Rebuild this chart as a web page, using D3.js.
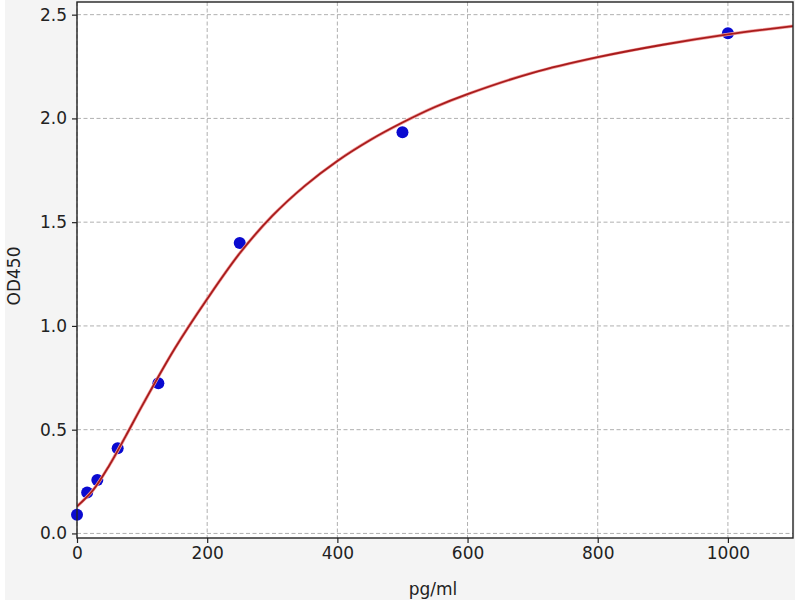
<!DOCTYPE html>
<html>
<head>
<meta charset="utf-8">
<script src="https://cdn.jsdelivr.net/npm/d3@7"></script>
<style>
  html, body { margin: 0; padding: 0; background: #ffffff; }
  svg { display: block; font-family: "DejaVu Sans", sans-serif; }
</style>
</head>
<body>
<svg id="chart" width="800" height="600"></svg>
<script>
// Standard points
const concentrations = [0, 15.6, 31.25, 62.5, 125, 250, 500, 1000];
const odValues = [0.09, 0.197, 0.258, 0.41, 0.724, 1.40, 1.933, 2.41];

// Fitted curve
const curveX = [0, 25, 50, 75, 100, 150, 200, 250, 300, 350, 400, 450, 500, 550, 600, 700, 800, 900, 1000, 1100];
const curveY = [0.13, 0.21, 0.33, 0.47, 0.615, 0.89, 1.13, 1.35, 1.53, 1.675, 1.795, 1.895, 1.98, 2.055, 2.117, 2.22, 2.295, 2.355, 2.405, 2.445];

const xTicks = [0, 200, 400, 600, 800, 1000];
const yTicks = [0.0, 0.5, 1.0, 1.5, 2.0, 2.5];

const xLabel = "pg/ml";
const yLabel = "OD450";

const svg = d3.select("#chart");
const W = 800, H = 600;
const m = { left: 77, right: 793, top: 2, bottom: 538 };

svg.append("rect").attr("x", 5).attr("y", 0).attr("width", 790).attr("height", H).attr("fill", "#f4f4f4");
svg.append("rect").attr("x", m.left).attr("y", m.top).attr("width", m.right - m.left).attr("height", m.bottom - m.top).attr("fill", "#ffffff");

const x = d3.scaleLinear().domain([0, 1100]).range([m.left, m.right]);
const y = d3.scaleLinear().domain([-0.022, 2.561]).range([m.bottom, m.top]);

// grid
const grid = svg.append("g").attr("stroke", "#b0b0b0").attr("stroke-width", 1).attr("stroke-dasharray", "4,2.5");
grid.selectAll("line.gx").data(xTicks).enter().append("line")
  .attr("x1", d => x(d)).attr("x2", d => x(d)).attr("y1", m.top).attr("y2", m.bottom);
grid.selectAll("line.gy").data(yTicks).enter().append("line")
  .attr("x1", m.left).attr("x2", m.right).attr("y1", d => y(d)).attr("y2", d => y(d));

// points
svg.append("g").selectAll("circle").data(concentrations).enter().append("circle")
  .attr("cx", d => x(d)).attr("cy", (d, i) => y(odValues[i])).attr("r", 6)
  .attr("fill", "#0a0ad0");

// curve
const line = d3.line().x(d => x(d[0])).y(d => y(d[1])).curve(d3.curveCatmullRom.alpha(0.5));
svg.append("clipPath").attr("id", "clip").append("rect")
  .attr("x", m.left).attr("y", m.top).attr("width", m.right - m.left).attr("height", m.bottom - m.top);
const curveData = curveX.map((v, i) => [v, curveY[i]]);
svg.append("path").datum(curveData)
  .attr("clip-path", "url(#clip)")
  .attr("d", line).attr("fill", "none").attr("stroke", "#f2a0a0").attr("stroke-width", 3.2);
svg.append("path").datum(curveData)
  .attr("clip-path", "url(#clip)")
  .attr("d", line).attr("fill", "none").attr("stroke", "#a81c1c").attr("stroke-width", 1.8);

// axes
const xAxis = d3.axisBottom(x).tickValues(xTicks).tickFormat(d3.format("d")).tickSize(5).tickPadding(4);
const yAxis = d3.axisLeft(y).tickValues(yTicks).tickFormat(d3.format(".1f")).tickSize(5).tickPadding(5);

const gx = svg.append("g").attr("transform", `translate(0,${m.bottom})`).call(xAxis);
const gy = svg.append("g").attr("transform", `translate(${m.left},0)`).call(yAxis);
[gx, gy].forEach(g => {
  g.select(".domain").remove();
  g.selectAll(".tick line").attr("stroke", "#222").attr("stroke-width", 1.2);
  g.selectAll(".tick text").attr("fill", "#222").style("font-size", "17px").style("font-family", "DejaVu Sans");
});

// frame
svg.append("rect").attr("x", m.left).attr("y", m.top).attr("width", m.right - m.left).attr("height", m.bottom - m.top)
  .attr("fill", "none").attr("stroke", "#222").attr("stroke-width", 1.4);

// labels
svg.append("text").attr("x", (m.left + m.right) / 2 - 2).attr("y", 595).attr("text-anchor", "middle")
  .attr("fill", "#222").style("font-size", "17px").text(xLabel);
svg.append("text").attr("transform", `translate(20,${(m.top + m.bottom) / 2 + 6}) rotate(-90)`).attr("text-anchor", "middle")
  .attr("fill", "#222").style("font-size", "17px").text(yLabel);
</script>
</body>
</html>
